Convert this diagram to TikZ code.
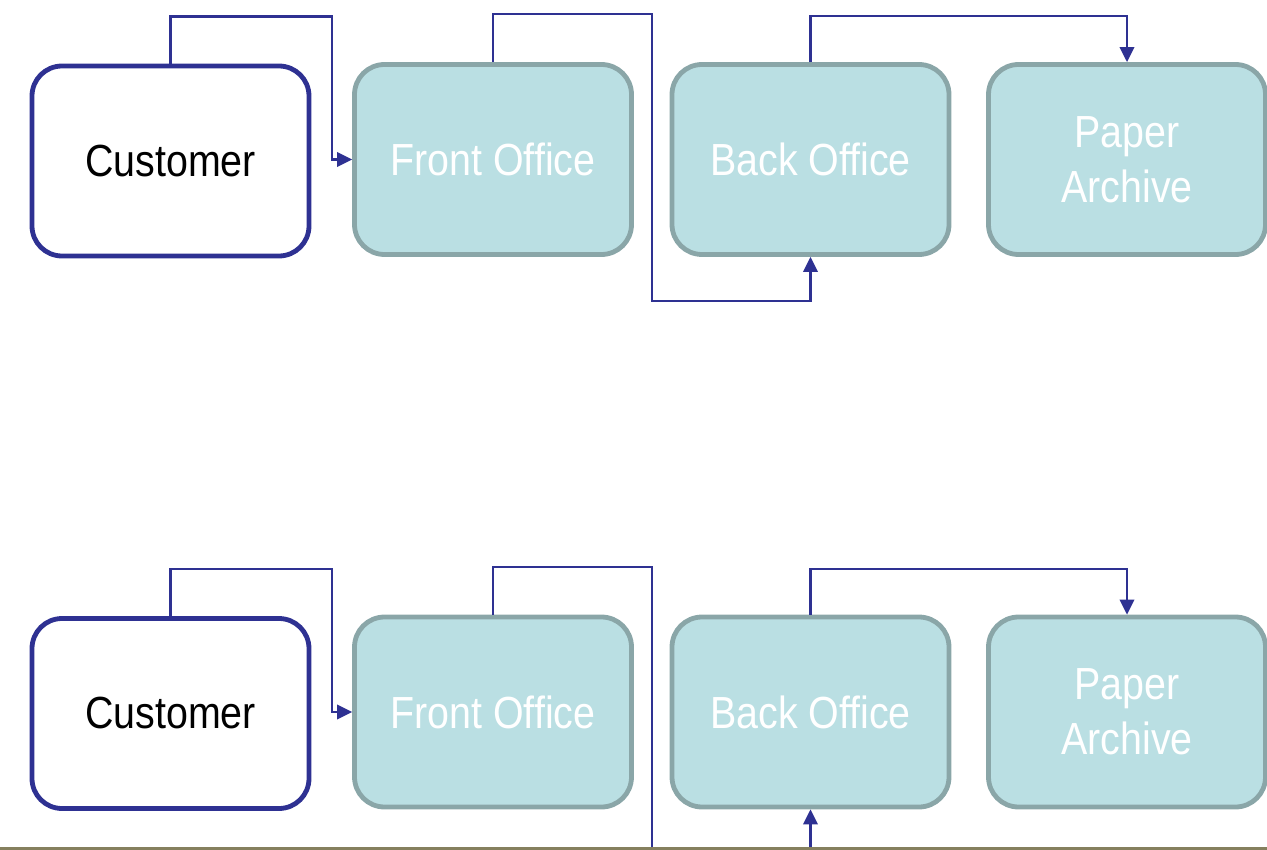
\documentclass[tikz,border=0pt]{standalone}
\usepackage{fontspec}
\setmainfont{Liberation Sans}[FakeStretch=0.875]
\usetikzlibrary{arrows.meta}
\definecolor{flowblue}{HTML}{2E3192}
\definecolor{deskfill}{HTML}{BADFE3}
\definecolor{deskline}{HTML}{8AA6A8}
\definecolor{footline}{HTML}{85805E}
\tikzset{
  box/.style={rectangle, rounded corners=30pt, minimum width=277pt, minimum height=190pt,
    line width=4.8pt, align=center, inner sep=0pt,
    font=\fontsize{45}{55}\selectfont},
  custbox/.style={box, draw=flowblue, fill=white, text=black},
  deskbox/.style={box, draw=deskline, fill=deskfill, text=white},
  conn/.style={draw=flowblue, line width=2.2pt, -{Triangle[length=15pt,width=14.5pt]}},
  plain/.style={draw=flowblue, line width=2.2pt},
}
\begin{document}
\begin{tikzpicture}[x=1pt,y=-1pt]
\useasboundingbox (0,0) rectangle (1267,850);
\clip (0,0) rectangle (1267,850);

% upper flow
\node[custbox] (cust)  at (170.5,161)  {Customer};
\node[deskbox] (front) at (493,159.5)  {Front Office};
\node[deskbox] (back)  at (810.5,159.5) {Back Office};
\node[deskbox] (paper) at (1127,159.5) {Paper\\Archive};

\draw[conn] (cust.north) -- ++(0,-47) -- ++(161.5,0) |- (front.west);
\draw[conn] (front.north) -- ++(0,-48) -- ++(159,0) -- ++(0,287) -| (back.south);
\draw[conn] (back.north) -- ++(0,-46) -| (paper.north);

% lower flow
\node[custbox] (cust2)  at (170.5,713.5)  {Customer};
\node[deskbox] (front2) at (493,712)  {Front Office};
\node[deskbox] (back2)  at (810.5,712) {Back Office};
\node[deskbox] (paper2) at (1127,712) {Paper\\Archive};

\draw[conn] (cust2.north) -- ++(0,-47) -- ++(161.5,0) |- (front2.west);
\draw[plain] (front2.north) -- ++(0,-48) -- ++(159,0) -- ++(0,340);
\coordinate (feed) at (back2.south |- 0,860);
\draw[conn] (feed) -- (back2.south);
\draw[conn] (back2.north) -- ++(0,-46) -| (paper2.north);

% footer rule
\coordinate (ruleL) at (0,848.5);
\coordinate (ruleR) at (1267,848.5);
\draw[footline, line width=3pt] (ruleL) -- (ruleR);
\end{tikzpicture}
\end{document}
